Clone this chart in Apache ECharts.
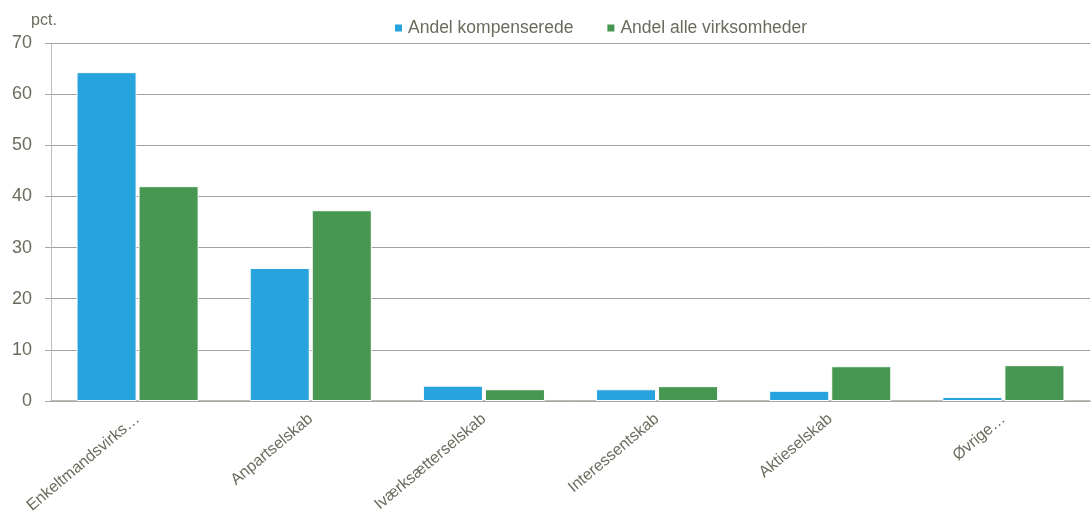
<!DOCTYPE html>
<html>
<head>
<meta charset="utf-8">
<script src="https://cdn.jsdelivr.net/npm/echarts@6/dist/echarts.min.js"></script>
<style>
html, body { margin: 0; padding: 0; background: #fff; }
#main { width: 1092px; height: 515px; }
</style>
</head>
<body>
<div id="main"></div>
<script>
var categories = ['Enkeltmandsvirks…', 'Anpartselskab', 'Iværksætterselskab', 'Interessentskab', 'Aktieselskab', 'Øvrige…'];
var kompenserede = [64.3, 26.0, 3.0, 2.3, 2.0, 0.8];
var alleVirksomheder = [42.0, 37.3, 2.3, 2.9, 6.8, 7.0];

var myChart = echarts.init(document.getElementById('main'));

myChart.setOption({
    animation: false,
    textStyle: { fontFamily: 'Liberation Sans, Arial, sans-serif' },
    legend: {
        top: 14,
        left: 388,
        itemWidth: 9,
        itemHeight: 9,
        itemGap: 32,
        icon: 'rect',
        textStyle: { color: '#6b6b5d', fontSize: 17.5 },
        data: ['Andel kompenserede', 'Andel alle virksomheder']
    },
    grid: { left: 51, right: 2, top: 43, bottom: 114, containLabel: false, outerBoundsMode: 'none' },
    xAxis: {
        type: 'category',
        data: categories,
        axisLine: { lineStyle: { color: '#a8a8a0', width: 1.5 } },
        axisTick: { show: false },
        axisLabel: {
            rotate: 40,
            interval: 0,
            color: '#6b6b5d',
            fontSize: 16,
            margin: 16
        }
    },
    yAxis: {
        type: 'value',
        min: 0,
        max: 70,
        interval: 10,
        name: 'pct.',
        nameGap: 14,
        nameTextStyle: { color: '#6b6b5d', fontSize: 16, align: 'center', padding: [0, 14, 0, 0] },
        axisLine: { show: true, lineStyle: { color: '#c0c0b8', width: 1 } },
        axisTick: { show: true, length: 6, lineStyle: { color: '#a8a8a0' } },
        axisLabel: { color: '#6b6b5d', fontSize: 18, margin: 19 },
        splitLine: { lineStyle: { color: '#a0a0a0', width: 1 } }
    },
    series: [{
        name: 'Andel kompenserede',
        type: 'bar',
        data: kompenserede,
        barGap: '3.3%',
        barCategoryGap: '29.5%',
        itemStyle: { color: '#27a3dd', borderColor: '#ffffff', borderWidth: 1 }
    }, {
        name: 'Andel alle virksomheder',
        type: 'bar',
        data: alleVirksomheder,
        itemStyle: { color: '#479651', borderColor: '#ffffff', borderWidth: 1 }
    }]
});
</script>
</body>
</html>
